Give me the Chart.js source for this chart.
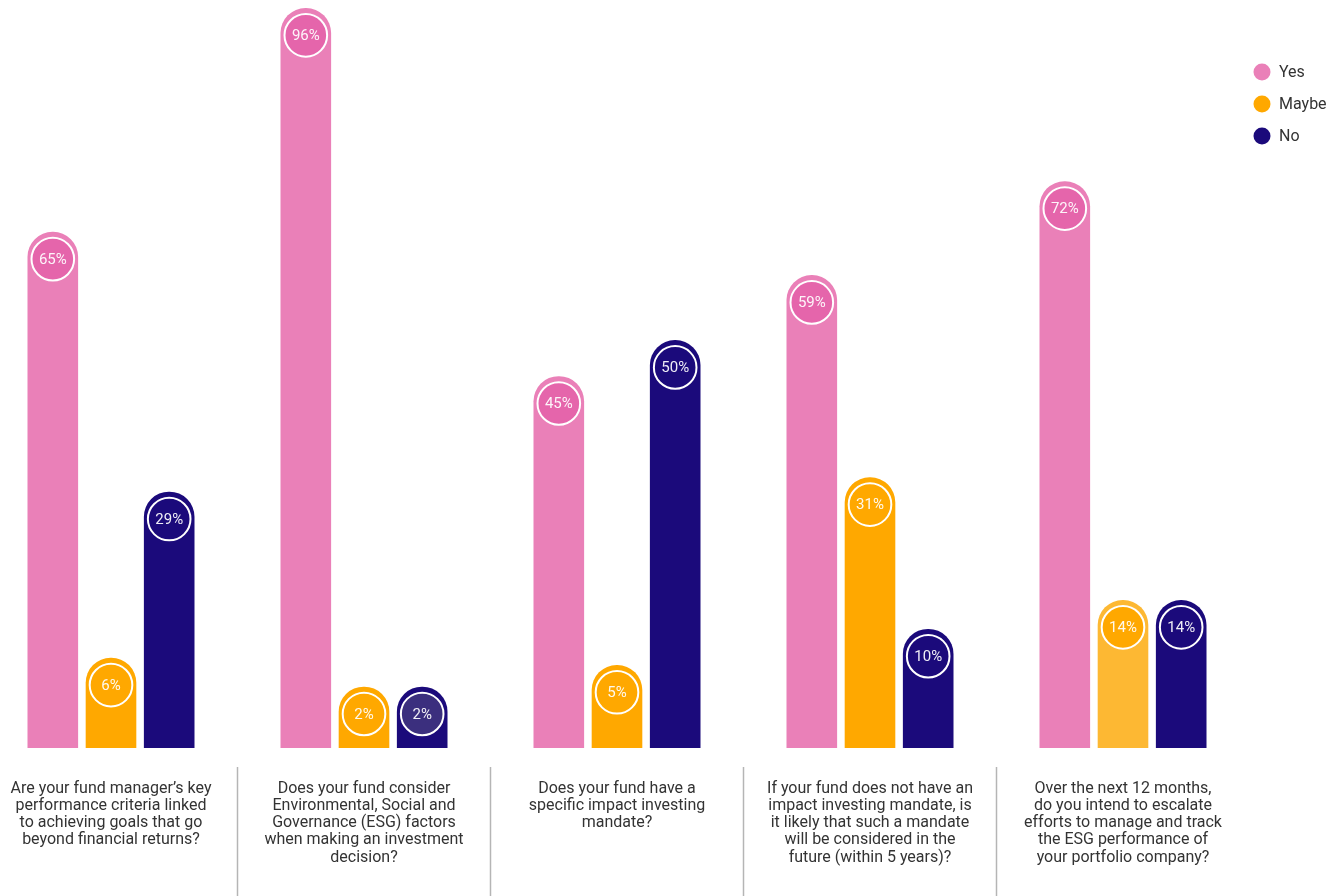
<!DOCTYPE html>
<html>
<head>
<meta charset="utf-8">
<script src="https://cdn.jsdelivr.net/npm/chart.js@4.4.1/dist/chart.umd.min.js"></script>
<style>
    html, body { margin: 0; padding: 0; background: #fff; overflow: hidden; }
    .wrap { position: absolute; left: -16px; top: 0; width: 1352px; height: 896px; }
</style>
</head>
<body>
<div class="wrap"><canvas id="chart"></canvas></div>
<script>
const categories = [
    ['Are your fund manager\u2019s key', 'performance criteria linked', 'to achieving goals that go', 'beyond financial returns?'],
    ['Does your fund consider', 'Environmental, Social and', 'Governance (ESG) factors', 'when making an investment', 'decision?'],
    ['Does your fund have a', 'specific impact investing', 'mandate?'],
    ['If your fund does not have an', 'impact investing mandate, is', 'it likely that such a mandate', 'will be considered in the', 'future (within 5 years)?'],
    ['Over the next 12 months,', 'do you intend to escalate', 'efforts to manage and track', 'the ESG performance of', 'your portfolio company?']
];
const seriesNames = ['Yes', 'Maybe', 'No'];
const yesValues = [65, 96, 45, 59, 72];
const maybeValues = [6, 2, 5, 31, 14];
const noValues = [29, 2, 50, 10, 14];

const FONT = 'Roboto, "Noto Sans", sans-serif';
const TEXT = '#333333';
const BASE = -6.5;

// bar bodies and the badge discs at their tops
const barColors = [
    ['#EA80B8', '#EA80B8', '#EA80B8', '#EA80B8', '#EA80B8'],
    ['#FFA800', '#FFA800', '#FFA800', '#FFA800', '#FDB833'],
    ['#1B0A7B', '#1B0A7B', '#1B0A7B', '#1B0A7B', '#1B0A7B']
];
const badgeColors = [
    ['#E565AB', '#E565AB', '#E565AB', '#E565AB', '#E565AB'],
    ['#FFA800', '#FFA800', '#FFA800', '#FFA800', '#FFA800'],
    ['#1B0A7B', '#3B2F7E', '#1B0A7B', '#1B0A7B', '#1B0A7B']
];
const legendColors = ['#EA80B8', '#FFA800', '#1B0A7B'];

// circle with the percentage sitting inside the rounded bar top
const badges = {
    id: 'badges',
    afterDatasetsDraw(chart) {
        const c = chart.ctx;
        chart.data.datasets.forEach((ds, di) => {
            chart.getDatasetMeta(di).data.forEach((bar, i) => {
                const r = bar.width / 2;
                const cx = bar.x;
                const cy = bar.y + r + 2;
                c.save();
                c.beginPath();
                c.arc(cx, cy, r - 4, 0, Math.PI * 2);
                c.fillStyle = badgeColors[di][i];
                c.fill();
                c.lineWidth = 2;
                c.strokeStyle = '#ffffff';
                c.stroke();
                c.fillStyle = 'rgba(255,255,255,0.93)';
                c.font = '15px ' + FONT;
                c.textAlign = 'center';
                c.textBaseline = 'middle';
                c.fillText(ds.data[i] + '%', cx, cy + 1);
                c.restore();
            });
        });
    }
};

// thin dividers between the question labels
const dividers = {
    id: 'dividers',
    afterDraw(chart) {
        const c = chart.ctx;
        const x = chart.scales.x;
        c.save();
        c.strokeStyle = '#b5b5b5';
        c.lineWidth = 1.5;
        for (let i = 0; i < categories.length - 1; i++) {
            const px = (x.getPixelForValue(i) + x.getPixelForValue(i + 1)) / 2;
            c.beginPath();
            c.moveTo(px, 767);
            c.lineTo(px, chart.height);
            c.stroke();
        }
        c.restore();
    }
};

// legend dots in the top right corner
const dotLegend = {
    id: 'dotLegend',
    afterDraw(chart) {
        const c = chart.ctx;
        c.save();
        c.font = '16px ' + FONT;
        c.textBaseline = 'middle';
        chart.data.datasets.forEach((ds, i) => {
            const y = 72 + i * 32;
            c.beginPath();
            c.arc(1278, y, 8.5, 0, Math.PI * 2);
            c.fillStyle = legendColors[i];
            c.fill();
            c.fillStyle = TEXT;
            c.fillText(ds.label, 1295, y + 1);
        });
        c.restore();
    }
};

let ctx = document.getElementById("chart");

let myChart = new Chart(ctx, {
    type: 'bar',
    data: {
        labels: categories,
        datasets: [
            { label: seriesNames[0], data: yesValues, backgroundColor: barColors[0] },
            { label: seriesNames[1], data: maybeValues, backgroundColor: barColors[1] },
            { label: seriesNames[2], data: noValues, backgroundColor: barColors[2] }
        ]
    },
    options: {
        responsive: true,
        maintainAspectRatio: false,
        animation: false,
        layout: {
            padding: { left: 0.5, right: 86.5, top: 8, bottom: 0 }
        },
        datasets: {
            bar: {
                base: BASE,
                borderRadius: 25,
                borderSkipped: 'start',
                categoryPercentage: 0.69,
                barPercentage: 0.87
            }
        },
        plugins: {
            legend: { display: false },
            tooltip: { enabled: false }
        },
        scales: {
            x: {
                grid: { display: false },
                border: { display: false },
                ticks: {
                    padding: 24,
                    maxRotation: 0,
                    autoSkip: false,
                    color: TEXT,
                    font: { family: FONT, size: 16, lineHeight: 1.08 }
                },
                afterFit: (scale) => { scale.height = 148; }
            },
            y: {
                display: false,
                min: BASE,
                max: 96
            }
        }
    },
    plugins: [badges, dividers, dotLegend]
});
</script>
</body>
</html>
